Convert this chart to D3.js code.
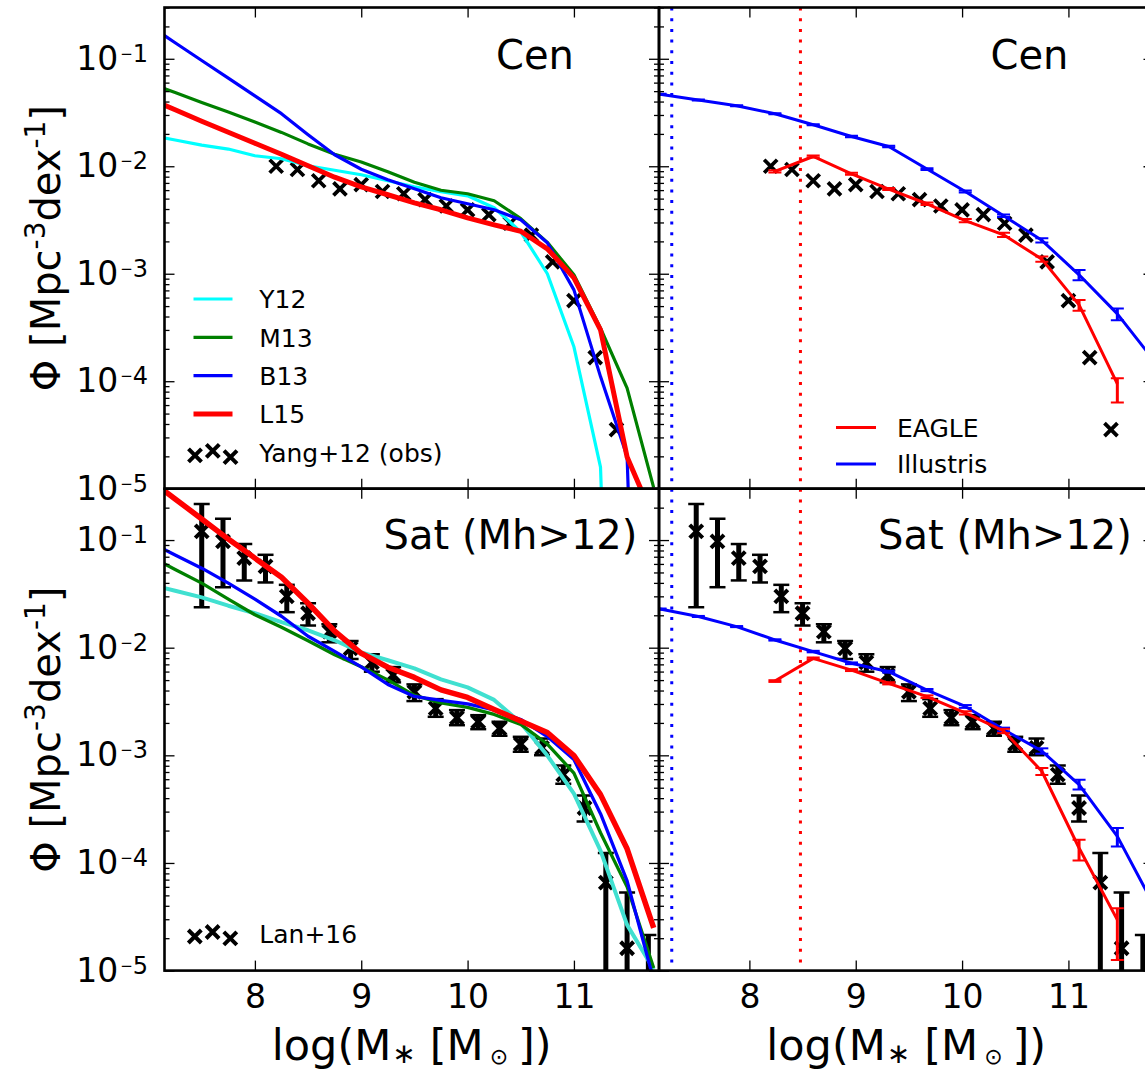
<!DOCTYPE html>
<html><head><meta charset="utf-8">
<script src="https://cdn.jsdelivr.net/npm/d3@7"></script>
<style>
body{margin:0;background:#fff}
svg{display:block}
text{font-family:"DejaVu Sans",sans-serif;fill:#000}
</style>
</head><body>
<svg id="chart" width="1145" height="1069"></svg>
<script>
// ---------------- DATA ----------------
const xTickValues = [8, 9, 10, 11];
const yTickExponents = [-5, -4, -3, -2, -1];

// model curves (log10 Phi), sampled every 0.25 dex; -12 = effectively zero (drops below axis)
const modelMass = [7.0, 7.25, 7.5, 7.75, 8.0, 8.25, 8.5, 8.75, 9.0, 9.25, 9.5, 9.75, 10.0, 10.25, 10.5, 10.75, 11.0, 11.25, 11.5, 11.75];
const cenY12 = [-1.709, -1.756, -1.804, -1.840, -1.902, -1.930, -1.995, -2.037, -2.079, -2.135, -2.191, -2.237, -2.275, -2.386, -2.610, -3.000, -3.680, -4.800, -12, -12];
const cenM13 = [-1.223, -1.314, -1.406, -1.496, -1.588, -1.685, -1.792, -1.888, -1.961, -2.051, -2.149, -2.223, -2.256, -2.321, -2.487, -2.708, -3.010, -3.507, -4.065, -4.990];
const cenB13 = [-0.685, -0.851, -1.016, -1.180, -1.345, -1.511, -1.706, -1.893, -2.028, -2.126, -2.210, -2.293, -2.349, -2.405, -2.498, -2.712, -3.150, -3.957, -4.700, -12];
const cenL15 = [-1.368, -1.474, -1.581, -1.683, -1.786, -1.888, -1.995, -2.102, -2.191, -2.265, -2.340, -2.405, -2.480, -2.545, -2.605, -2.768, -3.038, -3.522, -4.705, -5.280];
const satY12 = [-1.409, -1.471, -1.533, -1.610, -1.680, -1.763, -1.838, -1.931, -2.043, -2.117, -2.192, -2.294, -2.369, -2.485, -2.699, -3.002, -3.356, -3.886, -4.575, -4.988];
const satM13 = [-1.144, -1.274, -1.400, -1.549, -1.694, -1.810, -1.936, -2.066, -2.178, -2.299, -2.443, -2.513, -2.555, -2.620, -2.713, -2.895, -3.165, -3.719, -4.222, -4.976];
const satB13 = [-1.014, -1.139, -1.261, -1.400, -1.549, -1.708, -1.894, -2.034, -2.178, -2.341, -2.453, -2.490, -2.522, -2.578, -2.667, -2.825, -3.039, -3.542, -4.166, -5.090];
const satL15 = [-0.432, -0.618, -0.804, -0.991, -1.168, -1.345, -1.587, -1.847, -2.052, -2.182, -2.276, -2.392, -2.462, -2.574, -2.681, -2.788, -3.002, -3.365, -3.868, -4.603];

// Yang+12 observed centrals (log10 Phi)
const yangMass = [8.2, 8.4, 8.6, 8.8, 9.0, 9.2, 9.4, 9.6, 9.8, 10.0, 10.2, 10.4, 10.6, 10.8, 11.0, 11.2, 11.4];
const yangPhi = [-2.000, -2.030, -2.135, -2.210, -2.170, -2.235, -2.256, -2.310, -2.370, -2.405, -2.450, -2.530, -2.640, -2.890, -3.250, -3.780, -4.450];

// Lan+16 satellites (log10 Phi, upper and lower error ends; -12 = error reaches zero)
const lanMass = [7.5, 7.7, 7.9, 8.1, 8.3, 8.5, 8.7, 8.9, 9.1, 9.3, 9.5, 9.7, 9.9, 10.1, 10.3, 10.5, 10.7, 10.9, 11.1, 11.3, 11.5, 11.7];
const lanPhi = [-0.919, -1.012, -1.168, -1.245, -1.524, -1.680, -1.850, -2.006, -2.136, -2.254, -2.409, -2.564, -2.651, -2.688, -2.750, -2.895, -2.930, -3.179, -3.489, -4.182, -4.792, -5.300];
const lanHi = [-0.665, -0.802, -1.037, -1.137, -1.416, -1.587, -1.782, -1.938, -2.061, -2.180, -2.341, -2.478, -2.580, -2.627, -2.688, -2.828, -2.844, -3.095, -3.374, -3.908, -4.275, -4.669];
const lanLo = [-1.624, -1.438, -1.375, -1.394, -1.670, -1.794, -1.950, -2.105, -2.223, -2.322, -2.496, -2.642, -2.720, -2.757, -2.818, -2.967, -2.999, -3.263, -3.614, -12, -12, -12];

// simulations (log10 Phi) and errors in dex
const simMass = [6.80, 7.16, 7.52, 7.88, 8.24, 8.60, 8.96, 9.31, 9.67, 10.03, 10.39, 10.75, 11.10, 11.46, 11.82];
const cenIllustris = [-1.277, -1.330, -1.383, -1.437, -1.511, -1.614, -1.723, -1.816, -2.026, -2.235, -2.461, -2.689, -3.010, -3.373, -3.827];
const cenIllustrisErrHi = [0.004, 0.004, 0.004, 0.004, 0.005, 0.005, 0.006, 0.007, 0.008, 0.010, 0.012, 0.020, 0.045, 0.050, 0.080];
const cenIllustrisErrLo = [0.004, 0.004, 0.004, 0.004, 0.005, 0.005, 0.006, 0.007, 0.008, 0.010, 0.012, 0.020, 0.050, 0.060, 0.100];
const cenEagle = [null, null, null, null, -2.048, -1.909, -2.070, -2.212, -2.349, -2.505, -2.638, -2.864, -3.290, -4.025, null];
const cenEagleErrHi = [0, 0, 0, 0, 0.010, 0.010, 0.010, 0.010, 0.012, 0.015, 0.020, 0.025, 0.045, 0.053, 0];
const cenEagleErrLo = [0, 0, 0, 0, 0.010, 0.010, 0.010, 0.010, 0.012, 0.015, 0.020, 0.025, 0.055, 0.174, 0];
const satIllustris = [-1.574, -1.641, -1.710, -1.804, -1.928, -2.036, -2.145, -2.223, -2.394, -2.546, -2.760, -2.960, -3.272, -3.753, -4.424];
const satIllustrisErrHi = [0.005, 0.005, 0.005, 0.005, 0.006, 0.007, 0.008, 0.009, 0.010, 0.013, 0.017, 0.025, 0.045, 0.078, 0.120];
const satIllustrisErrLo = [0.005, 0.005, 0.005, 0.005, 0.006, 0.007, 0.008, 0.009, 0.010, 0.013, 0.017, 0.025, 0.045, 0.093, 0.150];
const satEagle = [null, null, null, null, -2.310, -2.099, -2.208, -2.331, -2.455, -2.606, -2.774, -3.148, -3.861, -4.529, null];
const satEagleErrHi = [0, 0, 0, 0, 0.008, 0.008, 0.009, 0.010, 0.012, 0.015, 0.020, 0.030, 0.077, 0.109, 0];
const satEagleErrLo = [0, 0, 0, 0, 0.008, 0.008, 0.009, 0.010, 0.012, 0.015, 0.020, 0.035, 0.116, 0.372, 0];

// resolution limits (vertical dotted lines)
const illustrisLimit = 7.27;
const eagleLimit = 8.48;

// ---------------- LAYOUT ----------------
const svg = d3.select("#chart");
const colX = [[164.5, 659], [659, 1153.5]];
const rowY = [[7.5, 488.7], [488.7, 970.6]];
const xDomain = [7.15, 11.8];
const yDomain = [1e-5, 0.3];
const P = v => Math.pow(10, v);

const COL = {cyan: "#00ffff", turq: "#40e0d0", green: "#008000", blue: "#0000ff", red: "#ff0000"};

function makePanel(col, row, id) {
  const x = d3.scaleLinear().domain(xDomain).range(colX[col]);
  const y = d3.scaleLog().domain(yDomain).range([rowY[row][1], rowY[row][0]]);
  const x0 = colX[col][0], x1 = colX[col][1], y0 = rowY[row][0], y1 = rowY[row][1];
  svg.append("clipPath").attr("id", id).append("rect")
    .attr("x", x0).attr("y", y0).attr("width", x1 - x0).attr("height", y1 - y0);
  const g = svg.append("g").attr("clip-path", `url(#${id})`);
  return {x, y, x0, x1, y0, y1, g, col, row};
}

function drawLine(p, xs, ys, color, width) {
  const pts = xs.map((m, i) => [m, ys[i]]).filter(d => d[1] !== null);
  p.g.append("path")
    .attr("d", d3.line().x(d => p.x(d[0])).y(d => p.y(P(d[1])))(pts))
    .attr("fill", "none").attr("stroke", color).attr("stroke-width", width)
    .attr("stroke-linejoin", "round");
}

function crossPath(s) { return `M${-s},${-s}L${s},${s}M${-s},${s}L${s},${-s}`; }

function drawCrosses(p, xs, ys, sw) {
  p.g.selectAll(null).data(xs.map((m, i) => [m, ys[i]])).enter().append("path")
    .attr("transform", d => `translate(${p.x(d[0])},${p.y(P(d[1]))})`)
    .attr("d", crossPath(6.5)).attr("fill", "none").attr("stroke", "#000").attr("stroke-width", sw);
}

function drawErrBars(p, xs, hi, lo, color, lw, capW, capLw) {
  const d = xs.map((m, i) => ({m, hi: hi[i], lo: lo[i]})).filter(e => e.hi !== null && e.lo !== null);
  const gg = p.g.append("g").attr("stroke", color);
  d.forEach(e => {
    const xx = p.x(e.m), yh = p.y(P(e.hi)), yl = p.y(P(e.lo));
    gg.append("line").attr("x1", xx).attr("x2", xx).attr("y1", yh).attr("y2", yl).attr("stroke-width", lw);
    [yh, yl].forEach(yy => gg.append("line").attr("x1", xx - capW).attr("x2", xx + capW)
      .attr("y1", yy).attr("y2", yy).attr("stroke-width", capLw));
  });
}

function drawSim(p, vals, eHi, eLo, color) {
  const hi = vals.map((v, i) => v === null ? null : v + eHi[i]);
  const lo = vals.map((v, i) => v === null ? null : v - eLo[i]);
  drawErrBars(p, simMass, hi, lo, color, 3, 6.5, 2);
  drawLine(p, simMass, vals, color, 3);
}

function vline(p, xv, color) {
  p.g.append("line").attr("x1", p.x(xv)).attr("x2", p.x(xv)).attr("y1", p.y0).attr("y2", p.y1)
    .attr("stroke", color).attr("stroke-width", 3).attr("stroke-dasharray", "3,7.7");
}

// ---------------- AXES ----------------
const minorVals = [];
for (let e = -6; e <= 0; e++) for (let k = 2; k <= 9; k++) {
  const v = k * Math.pow(10, e);
  if (v > yDomain[0] && v <= yDomain[1] * 1.0001) minorVals.push(v);
}
const majorVals = yTickExponents.map(e => Math.pow(10, e));

function styleAxis(sel) {
  sel.select(".domain").remove();
  sel.selectAll(".tick line").attr("stroke", "#000").attr("stroke-width", 1.3);
  sel.attr("font-family", null).attr("font-size", null);
}

function drawAxes(p) {
  // left
  const gl = svg.append("g").attr("transform", `translate(${p.x0},0)`)
    .call(d3.axisLeft(p.y).tickValues(majorVals).tickSize(-10).tickPadding(16.5));
  styleAxis(gl);
  if (p.col === 0) {
    gl.selectAll(".tick text").each(function (d) {
      const t = d3.select(this).text(null).attr("font-size", 33).attr("text-anchor", "end");
      t.append("tspan").text("10");
      t.append("tspan").attr("font-size", 15).attr("dy", -11).attr("dx", 2).text("\u2212");
      t.append("tspan").attr("font-size", 24).attr("dy", 3).text(Math.round(-Math.log10(d)));
    });
  } else gl.selectAll(".tick text").remove();
  const glm = svg.append("g").attr("transform", `translate(${p.x0},0)`)
    .call(d3.axisLeft(p.y).tickValues(minorVals).tickSize(-5).tickFormat(""));
  styleAxis(glm);
  // right
  const gr = svg.append("g").attr("transform", `translate(${p.x1},0)`)
    .call(d3.axisRight(p.y).tickValues(majorVals).tickSize(-10).tickFormat(""));
  styleAxis(gr);
  const grm = svg.append("g").attr("transform", `translate(${p.x1},0)`)
    .call(d3.axisRight(p.y).tickValues(minorVals).tickSize(-5).tickFormat(""));
  styleAxis(grm);
  // top
  const gt = svg.append("g").attr("transform", `translate(0,${p.y0})`)
    .call(d3.axisTop(p.x).tickValues(xTickValues).tickSize(-10).tickFormat(""));
  styleAxis(gt);
  // bottom
  const gb = svg.append("g").attr("transform", `translate(0,${p.y1})`)
    .call(d3.axisBottom(p.x).tickValues(xTickValues).tickSize(-10).tickPadding(14).tickFormat(d3.format("d")));
  styleAxis(gb);
  if (p.row === 1) gb.selectAll(".tick text").attr("font-size", 33);
  else gb.selectAll(".tick text").remove();
}

function frame(p) {
  svg.append("rect").attr("x", p.x0).attr("y", p.y0).attr("width", p.x1 - p.x0).attr("height", p.y1 - p.y0)
    .attr("fill", "none").attr("stroke", "#000").attr("stroke-width", 2.6);
}

function title(p, txt, dx, dy) {
  svg.append("text").attr("x", p.x0 + dx).attr("y", p.y0 + dy).attr("text-anchor", "middle")
    .attr("font-size", 40).text(txt);
}

// ---------------- PANELS ----------------
const pTL = makePanel(0, 0, "cTL");
const pTR = makePanel(1, 0, "cTR");
const pBL = makePanel(0, 1, "cBL");
const pBR = makePanel(1, 1, "cBR");

// top-left: centrals, models
drawCrosses(pTL, yangMass, yangPhi, 3.8);
drawLine(pTL, modelMass, cenY12, COL.cyan, 3.2);
drawLine(pTL, modelMass, cenM13, COL.green, 3.2);
drawLine(pTL, modelMass, cenB13, COL.blue, 3.2);
drawLine(pTL, modelMass, cenL15, COL.red, 5);

// top-right: centrals, simulations
vline(pTR, illustrisLimit, COL.blue);
vline(pTR, eagleLimit, COL.red);
drawCrosses(pTR, yangMass, yangPhi, 3.8);
drawSim(pTR, cenIllustris, cenIllustrisErrHi, cenIllustrisErrLo, COL.blue);
drawSim(pTR, cenEagle, cenEagleErrHi, cenEagleErrLo, COL.red);

// bottom-left: satellites, models
drawErrBars(pBL, lanMass, lanHi, lanLo, "#000", 5, 8, 2.5);
drawCrosses(pBL, lanMass, lanPhi, 4);
drawLine(pBL, modelMass, satY12, COL.turq, 4);
drawLine(pBL, modelMass, satM13, COL.green, 3.3);
drawLine(pBL, modelMass, satB13, COL.blue, 3.3);
drawLine(pBL, modelMass, satL15, COL.red, 5.5);

// bottom-right: satellites, simulations
vline(pBR, illustrisLimit, COL.blue);
vline(pBR, eagleLimit, COL.red);
drawErrBars(pBR, lanMass, lanHi, lanLo, "#000", 5, 8, 2.5);
drawCrosses(pBR, lanMass, lanPhi, 4);
drawSim(pBR, satIllustris, satIllustrisErrHi, satIllustrisErrLo, COL.blue);
drawSim(pBR, satEagle, satEagleErrHi, satEagleErrLo, COL.red);

[pTL, pTR, pBL, pBR].forEach(p => { drawAxes(p); frame(p); });

title(pTL, "Cen", 370.5, 61);
title(pTR, "Cen", 370.5, 61);
title(pBL, "Sat (Mh>12)", 346, 60.3);
title(pBR, "Sat (Mh>12)", 346, 60.3);

// ---------------- LEGENDS ----------------
const legTL = [
  {label: "Y12", color: COL.cyan, w: 3.2},
  {label: "M13", color: COL.green, w: 3.2},
  {label: "B13", color: COL.blue, w: 3.2},
  {label: "L15", color: COL.red, w: 5}
];
legTL.forEach((d, i) => {
  const by = pTL.y0 + 300.8 + i * 38.35;
  svg.append("line").attr("x1", pTL.x0 + 29).attr("x2", pTL.x0 + 68).attr("y1", by - 9.3).attr("y2", by - 9.3)
    .attr("stroke", d.color).attr("stroke-width", d.w);
  svg.append("text").attr("x", pTL.x0 + 94.8).attr("y", by).attr("font-size", 25).text(d.label);
});
function legendCrosses(p, bx, by, label) {
  const offs = [[0, 0], [17.8, -4.5], [35.5, 1.8]];
  offs.forEach(o => svg.append("path").attr("transform", `translate(${p.x0 + bx + o[0]},${p.y0 + by + o[1]})`)
    .attr("d", crossPath(6.5)).attr("fill", "none").attr("stroke", "#000").attr("stroke-width", 4));
  svg.append("text").attr("x", p.x0 + 94.8).attr("y", p.y0 + by + 6.5).attr("font-size", 25).text(label);
}
legendCrosses(pTL, 30.5, 455.3 - pTL.y0, "Yang+12 (obs)");
legendCrosses(pBL, 30.3, 936.5 - pBL.y0, "Lan+16");

const legTR = [{label: "EAGLE", color: COL.red}, {label: "Illustris", color: COL.blue}];
legTR.forEach((d, i) => {
  const by = 436.7 + i * 36.6;
  svg.append("line").attr("x1", pTR.x0 + 177).attr("x2", pTR.x0 + 217).attr("y1", by - 9.3).attr("y2", by - 9.3)
    .attr("stroke", d.color).attr("stroke-width", 3);
  svg.append("text").attr("x", pTR.x0 + 238).attr("y", by).attr("font-size", 25).text(d.label);
});

// ---------------- AXIS LABELS ----------------
function xLabel(p) {
  const t = svg.append("text").attr("x", (p.x0 + p.x1) / 2).attr("y", 1059.5)
    .attr("text-anchor", "middle").attr("font-size", 43);
  t.append("tspan").text("log(M");
  t.append("tspan").attr("font-size", 28).attr("dy", 3).attr("dx", 1).text("\u2217");
  t.append("tspan").attr("dy", -3).attr("dx", 14).text("[M");
  t.append("tspan").attr("font-size", 22).attr("dy", 4).attr("dx", 6).text("\u2299");
  t.append("tspan").attr("dy", -4).attr("dx", 10).text("])");
}
xLabel(pBL); xLabel(pBR);

function yLabel(p) {
  const cy = (p.y0 + p.y1) / 2;
  const t = svg.append("text").attr("transform", `translate(60,${cy}) rotate(-90)`)
    .attr("text-anchor", "middle").attr("font-size", 40);
  t.append("tspan").text("\u03a6 [Mpc");
  t.append("tspan").attr("font-size", 28).attr("dy", -15).text("-3");
  t.append("tspan").attr("dy", 15).text("dex");
  t.append("tspan").attr("font-size", 28).attr("dy", -15).text("-1");
  t.append("tspan").attr("dy", 15).text("]");
}
yLabel(pTL); yLabel(pBL);
</script>
</body></html>
